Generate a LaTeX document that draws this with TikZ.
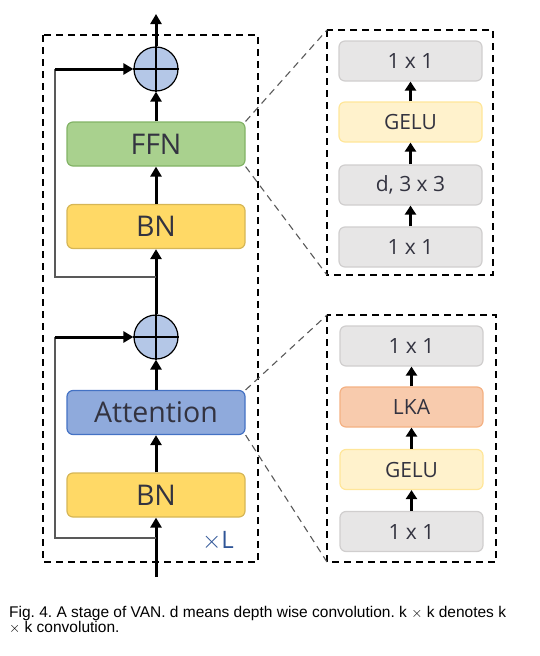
\documentclass[tikz,border=0pt]{standalone}
\usepackage{fontspec}
\setmainfont{Open Sans}
\newfontfamily\capfont{Liberation Sans}
\usetikzlibrary{arrows.meta}
\definecolor{txt}{HTML}{333340}
\definecolor{ffnfill}{HTML}{A9D18E}
\definecolor{ffnline}{HTML}{82B366}
\definecolor{bnfill}{HTML}{FFD966}
\definecolor{bnline}{HTML}{D6B656}
\definecolor{attfill}{HTML}{8FAADC}
\definecolor{attline}{HTML}{4472C4}
\definecolor{sumfill}{HTML}{B4C7E7}
\definecolor{grayfill}{HTML}{E7E6E6}
\definecolor{grayline}{HTML}{D0CECE}
\definecolor{gelufill}{HTML}{FFF2CC}
\definecolor{geluline}{HTML}{FFE699}
\definecolor{lkafill}{HTML}{F8CBAD}
\definecolor{lkaline}{HTML}{F4B183}
\definecolor{xlcol}{HTML}{2F5597}
\tikzset{
  mainbox/.style={draw, rounded corners=6pt, line width=1.2pt, minimum width=178pt, minimum height=44pt, inner sep=0pt, text=txt, font=\fontsize{28.5}{28.5}\selectfont},
  subbox/.style={draw, rounded corners=6pt, line width=1.2pt, minimum width=143pt, minimum height=40pt, inner sep=0pt, text=txt, font=\fontsize{21}{21}\selectfont},
  sumnode/.style={draw, circle, fill=sumfill, line width=1.2pt, minimum size=44pt, inner sep=0pt},
  flow/.style={line width=3pt, -{Triangle[width=11pt,length=10pt]}},
  subflow/.style={line width=3.2pt, -{Triangle[width=11pt,length=9pt]}},
  dashbox/.style={draw, dashed, line width=1.6pt, dash pattern=on 7pt off 5pt},
  zoomline/.style={draw=black!65, line width=1.1pt, dash pattern=on 7pt off 5pt},
  skipline/.style={line width=1.5pt, draw=black!65},
}
\begin{document}
\begin{tikzpicture}[x=1pt,y=-1pt]
\useasboundingbox (0,0) rectangle (540,656);
% outer stage box
\draw[dashbox] (43,35) rectangle (258,562);
\node[font=\fontsize{24}{24}\selectfont, text=xlcol, anchor=base] (xl) at (218,548) {$\times$L};
% main column
\node[sumnode] (s1) at (156,69) {};
\node[mainbox, fill=ffnfill, draw=ffnline] (ffn) at (156,144) {FFN};
\node[mainbox, fill=bnfill, draw=bnline] (bn1) at (156,226.5) {BN};
\node[sumnode] (s2) at (156,337) {};
\node[mainbox, fill=attfill, draw=attline] (att) at (156,412.5) {Attention};
\node[mainbox, fill=bnfill, draw=bnline] (bn2) at (156,495) {BN};
\coordinate (top) at (156,14);
\coordinate (b1) at (156,277);
\coordinate (k1) at (55,277);
\coordinate (u1) at (55,69);
\coordinate (b2) at (156,538);
\coordinate (k2) at (55,538);
\coordinate (u2) at (55,337);
\coordinate (bot) at (156,577);
% plus signs
\draw[line width=1.5pt] (s1.west) -- (s1.east) (s1.north) -- (s1.south);
\draw[line width=1.5pt] (s2.west) -- (s2.east) (s2.north) -- (s2.south);
% flow arrows
\draw[flow] (s1.north) -- (top);
\draw[flow] (ffn.north) -- (s1.south);
\draw[flow] (bn1.north) -- (ffn.south);
\draw[flow] (s2.north) -- (bn1.south);
\draw[flow] (att.north) -- (s2.south);
\draw[flow] (bn2.north) -- (att.south);
\draw[flow] (bot) -- (bn2.south);
% skip connections
\draw[skipline] (b1) -- (k1) -- (u1);
\draw[flow] (u1) -- (s1.west);
\draw[skipline] (b2) -- (k2) -- (u2);
\draw[flow] (u2) -- (s2.west);
% FFN detail
\draw[dashbox] (327,30) rectangle (493,275);
\coordinate (f1tl) at (327,30);
\coordinate (f1bl) at (327,275);
\node[subbox, fill=grayfill, draw=grayline] (fa) at (410.5,61) {1 x 1};
\node[subbox, fill=gelufill, draw=geluline] (fb) at (410.5,122) {GELU};
\node[subbox, fill=grayfill, draw=grayline] (fc) at (410.5,185) {d, 3 x 3};
\node[subbox, fill=grayfill, draw=grayline] (fd) at (410.5,247) {1 x 1};
\draw[subflow] (fb.north) -- (fa.south);
\draw[subflow] (fc.north) -- (fb.south);
\draw[subflow] (fd.north) -- (fc.south);
% Attention detail
\draw[dashbox] (327,315) rectangle (496,562);
\coordinate (a1tl) at (327,315);
\coordinate (a1bl) at (327,562);
\node[subbox, fill=grayfill, draw=grayline] (aa) at (411.5,346) {1 x 1};
\node[subbox, fill=lkafill, draw=lkaline] (ab) at (411.5,407) {LKA};
\node[subbox, fill=gelufill, draw=geluline] (ac) at (411.5,469.5) {GELU};
\node[subbox, fill=grayfill, draw=grayline] (ad) at (411.5,531.5) {1 x 1};
\draw[subflow] (ab.north) -- (aa.south);
\draw[subflow] (ac.north) -- (ab.south);
\draw[subflow] (ad.north) -- (ac.south);
% zoom lines
\draw[zoomline] (ffn.north east) -- (f1tl);
\draw[zoomline] (ffn.south east) -- (f1bl);
\draw[zoomline] (att.north east) -- (a1tl);
\draw[zoomline] (att.south east) -- (a1bl);
% caption
\node[anchor=base west, inner sep=0pt, align=left, font=\capfont\fontsize{15.5}{13.5}\selectfont] (cap) at (9,632.5) {\frenchspacing Fig. 4. A stage of VAN. d means depth wise convolution. k $\times$ k denotes k\\\frenchspacing $\times$ k convolution.};
\end{tikzpicture}
\end{document}
